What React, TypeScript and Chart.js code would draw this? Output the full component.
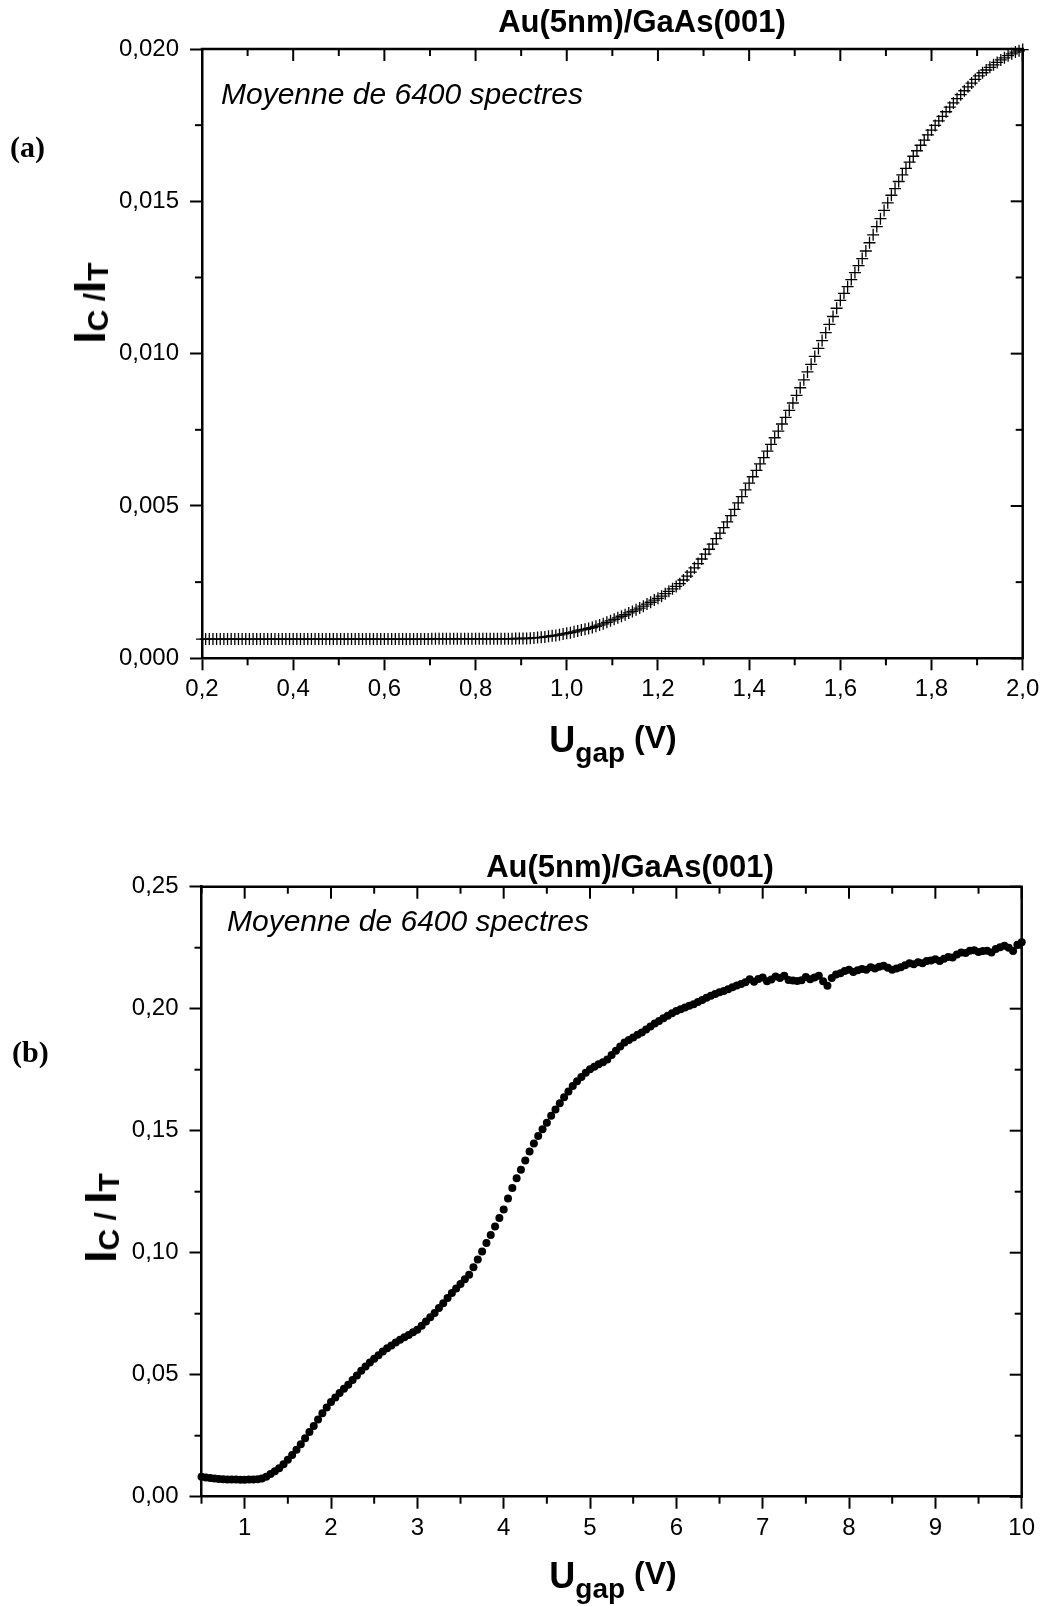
import React, { useEffect, useRef } from 'react';
import { Chart, registerables } from 'chart.js';

Chart.register(...registerables);

const FONT = "'Liberation Sans', Arial, Helvetica, sans-serif";
const SERIF = "'Liberation Serif', 'Times New Roman', serif";

const titleText = 'Au(5nm)/GaAs(001)';
const noteText = 'Moyenne de 6400 spectres';

// ---------- panel (a) ----------
const xA = [
  0.2, 0.208, 0.216, 0.224, 0.232, 0.24, 0.248, 0.256, 0.264, 0.272, 0.28, 0.288, 0.296, 0.304, 0.312, 0.32, 0.328, 0.336, 0.344, 0.352, 0.36, 0.368, 0.376, 0.384, 0.392,
  0.4, 0.408, 0.416, 0.424, 0.432, 0.44, 0.448, 0.456, 0.464, 0.472, 0.48, 0.488, 0.496, 0.504, 0.512, 0.52, 0.528, 0.536, 0.544, 0.552, 0.56, 0.568, 0.576, 0.584, 0.592,
  0.6, 0.608, 0.616, 0.624, 0.632, 0.64, 0.648, 0.656, 0.664, 0.672, 0.68, 0.688, 0.696, 0.704, 0.712, 0.72, 0.728, 0.736, 0.744, 0.752, 0.76, 0.768, 0.776, 0.784, 0.792,
  0.8, 0.808, 0.816, 0.824, 0.832, 0.84, 0.848, 0.856, 0.864, 0.872, 0.88, 0.888, 0.896, 0.904, 0.912, 0.92, 0.928, 0.936, 0.944, 0.952, 0.96, 0.968, 0.976, 0.984, 0.992,
  1.0, 1.008, 1.016, 1.024, 1.032, 1.04, 1.048, 1.056, 1.064, 1.072, 1.08, 1.088, 1.096, 1.104, 1.112, 1.12, 1.128, 1.136, 1.144, 1.152, 1.16, 1.168, 1.176, 1.184, 1.192,
  1.2, 1.208, 1.216, 1.224, 1.232, 1.24, 1.248, 1.256, 1.264, 1.272, 1.28, 1.288, 1.296, 1.304, 1.312, 1.32, 1.328, 1.336, 1.344, 1.352, 1.36, 1.368, 1.376, 1.384, 1.392,
  1.4, 1.408, 1.416, 1.424, 1.432, 1.44, 1.448, 1.456, 1.464, 1.472, 1.48, 1.488, 1.496, 1.504, 1.512, 1.52, 1.528, 1.536, 1.544, 1.552, 1.56, 1.568, 1.576, 1.584, 1.592,
  1.6, 1.608, 1.616, 1.624, 1.632, 1.64, 1.648, 1.656, 1.664, 1.672, 1.68, 1.688, 1.696, 1.704, 1.712, 1.72, 1.728, 1.736, 1.744, 1.752, 1.76, 1.768, 1.776, 1.784, 1.792,
  1.8, 1.808, 1.816, 1.824, 1.832, 1.84, 1.848, 1.856, 1.864, 1.872, 1.88, 1.888, 1.896, 1.904, 1.912, 1.92, 1.928, 1.936, 1.944, 1.952, 1.96, 1.968, 1.976, 1.984, 1.992,
  2.0,
];
const yA = [
  0.00063, 0.00063, 0.00063, 0.00063, 0.00063, 0.00063, 0.00063, 0.00063, 0.00063, 0.00063, 0.00063, 0.00063, 0.00063, 0.00063, 0.00063, 0.00063, 0.00063, 0.00063, 0.00063, 0.00063, 0.00063, 0.00063, 0.00063, 0.00063, 0.00063,
  0.00063, 0.00063, 0.00063, 0.00063, 0.00063, 0.00063, 0.00063, 0.00063, 0.00063, 0.00063, 0.00063, 0.00063, 0.00063, 0.00063, 0.00063, 0.00063, 0.00063, 0.00063, 0.00063, 0.00063, 0.00063, 0.00063, 0.00063, 0.00063, 0.00063,
  0.00063, 0.00063, 0.00063, 0.00063, 0.00063, 0.00063, 0.00063, 0.00063, 0.00063, 0.00063, 0.00063, 0.00063, 0.00063, 0.00064, 0.00064, 0.00064, 0.00064, 0.00064, 0.00064, 0.00064, 0.00064, 0.00064, 0.00064, 0.00064, 0.00064,
  0.00064, 0.00064, 0.00064, 0.00064, 0.00064, 0.00064, 0.00064, 0.00064, 0.00064, 0.00064, 0.00064, 0.00065, 0.00065, 0.00065, 0.00065, 0.00066, 0.00067, 0.00068, 0.00069, 0.0007, 0.00072, 0.00074, 0.00075, 0.00077, 0.0008,
  0.00082, 0.00084, 0.00087, 0.0009, 0.00093, 0.00095, 0.00098, 0.00101, 0.00105, 0.00109, 0.00113, 0.00118, 0.00123, 0.00128, 0.00133, 0.00138, 0.00143, 0.00149, 0.00154, 0.00159, 0.00165, 0.00171, 0.00178, 0.00184, 0.00191,
  0.00197, 0.00204, 0.00212, 0.0022, 0.00228, 0.00236, 0.00245, 0.00257, 0.0027, 0.00283, 0.00297, 0.00311, 0.00326, 0.00342, 0.00358, 0.00375, 0.00393, 0.00411, 0.00429, 0.00448, 0.00468, 0.00489, 0.0051, 0.00531, 0.00553,
  0.00575, 0.00596, 0.00617, 0.00638, 0.00659, 0.0068, 0.00702, 0.00724, 0.00746, 0.00769, 0.00791, 0.00814, 0.00838, 0.00863, 0.00888, 0.00914, 0.0094, 0.00965, 0.00991, 0.01017, 0.01043, 0.01069, 0.01096, 0.01122, 0.01149,
  0.01175, 0.01198, 0.0122, 0.01243, 0.01266, 0.01289, 0.01312, 0.01337, 0.01364, 0.0139, 0.01417, 0.01443, 0.0147, 0.01495, 0.0152, 0.01542, 0.01565, 0.01587, 0.01608, 0.01629, 0.01648, 0.01666, 0.01684, 0.01701, 0.01718,
  0.01734, 0.01749, 0.01764, 0.01779, 0.01794, 0.01809, 0.01823, 0.01837, 0.0185, 0.01863, 0.01876, 0.01888, 0.019, 0.01912, 0.01922, 0.01931, 0.0194, 0.01948, 0.01956, 0.01964, 0.01971, 0.01978, 0.01984, 0.0199, 0.01994,
  0.01998,
];
const xTicksA = [0.2, 0.4, 0.6, 0.8, 1.0, 1.2, 1.4, 1.6, 1.8, 2.0];
const xMinorA = [0.3, 0.5, 0.7, 0.9, 1.1, 1.3, 1.5, 1.7, 1.9];
const yTicksA = [0, 0.005, 0.01, 0.015, 0.02];
const yMinorA = [0.0025, 0.0075, 0.0125, 0.0175];

// ---------- panel (b) ----------
const xB = [
  0.5, 0.55, 0.6, 0.65, 0.7, 0.75, 0.8, 0.85, 0.9, 0.95,
  1, 1.05, 1.1, 1.15, 1.2, 1.25, 1.3, 1.35, 1.4, 1.45, 1.5, 1.55, 1.6, 1.65, 1.7, 1.75, 1.8, 1.85, 1.9, 1.95,
  2, 2.05, 2.1, 2.15, 2.2, 2.25, 2.3, 2.35, 2.4, 2.45, 2.5, 2.55, 2.6, 2.65, 2.7, 2.75, 2.8, 2.85, 2.9, 2.95,
  3, 3.05, 3.1, 3.15, 3.2, 3.25, 3.3, 3.35, 3.4, 3.45, 3.5, 3.55, 3.6, 3.65, 3.7, 3.75, 3.8, 3.85, 3.9, 3.95,
  4, 4.05, 4.1, 4.15, 4.2, 4.25, 4.3, 4.35, 4.4, 4.45, 4.5, 4.55, 4.6, 4.65, 4.7, 4.75, 4.8, 4.85, 4.9, 4.95,
  5, 5.05, 5.1, 5.15, 5.2, 5.25, 5.3, 5.35, 5.4, 5.45, 5.5, 5.55, 5.6, 5.65, 5.7, 5.75, 5.8, 5.85, 5.9, 5.95,
  6, 6.05, 6.1, 6.15, 6.2, 6.25, 6.3, 6.35, 6.4, 6.45, 6.5, 6.55, 6.6, 6.65, 6.7, 6.75, 6.8, 6.85, 6.9, 6.95,
  7, 7.05, 7.1, 7.15, 7.2, 7.25, 7.3, 7.35, 7.4, 7.45, 7.5, 7.55, 7.6, 7.65, 7.7, 7.75, 7.8, 7.85, 7.9, 7.95,
  8, 8.05, 8.1, 8.15, 8.2, 8.25, 8.3, 8.35, 8.4, 8.45, 8.5, 8.55, 8.6, 8.65, 8.7, 8.75, 8.8, 8.85, 8.9, 8.95,
  9, 9.05, 9.1, 9.15, 9.2, 9.25, 9.3, 9.35, 9.4, 9.45, 9.5, 9.55, 9.6, 9.65, 9.7, 9.75, 9.8, 9.85, 9.9, 9.95,
  10,
];
const yB = [
  0.0082, 0.0079, 0.0077, 0.0075, 0.0073, 0.0072, 0.0071, 0.007, 0.007, 0.0069,
  0.0069, 0.007, 0.007, 0.0072, 0.0075, 0.0082, 0.0093, 0.0104, 0.0117, 0.0133, 0.0151, 0.0171, 0.0192, 0.0215, 0.024, 0.0265, 0.029, 0.0316, 0.0342, 0.0366,
  0.0388, 0.0407, 0.0425, 0.0442, 0.0459, 0.0478, 0.0497, 0.0516, 0.0534, 0.055, 0.0565, 0.058, 0.0595, 0.0608, 0.062, 0.0632, 0.0643, 0.0653, 0.0663, 0.0674,
  0.0684, 0.0701, 0.0718, 0.0735, 0.0753, 0.0773, 0.0793, 0.0814, 0.0835, 0.0853, 0.0872, 0.0891, 0.091, 0.094, 0.0972, 0.1005, 0.104, 0.1073, 0.1107, 0.1142,
  0.1177, 0.1222, 0.1265, 0.1305, 0.134, 0.1378, 0.1415, 0.1448, 0.1478, 0.1506, 0.1533, 0.1561, 0.1587, 0.1612, 0.1637, 0.1661, 0.1683, 0.1703, 0.172, 0.1737,
  0.1752, 0.1762, 0.1772, 0.1781, 0.1792, 0.181, 0.1828, 0.1845, 0.1861, 0.1872, 0.1882, 0.1893, 0.1902, 0.1915, 0.1927, 0.1939, 0.195, 0.1961, 0.1971, 0.1981,
  0.1991, 0.1998, 0.2005, 0.2012, 0.2018, 0.2027, 0.2036, 0.2045, 0.2053, 0.206, 0.2067, 0.2073, 0.208, 0.2088, 0.2095, 0.2101, 0.2108, 0.2121, 0.211, 0.2122,
  0.2128, 0.2112, 0.212, 0.2132, 0.2126, 0.2135, 0.2118, 0.2116, 0.2114, 0.2117, 0.213, 0.2121, 0.2128, 0.2135, 0.2112, 0.2094, 0.2126, 0.214, 0.2145, 0.2155,
  0.216, 0.215, 0.2158, 0.2163, 0.216, 0.217, 0.2165, 0.2172, 0.2176, 0.2168, 0.216, 0.2165, 0.217, 0.2178, 0.2186, 0.2182, 0.219, 0.2186, 0.2195, 0.2198,
  0.2203, 0.2196, 0.2205, 0.2212, 0.221, 0.2222, 0.223, 0.2228, 0.2237, 0.224, 0.2232, 0.2236, 0.2237, 0.223, 0.2245, 0.2252, 0.2258, 0.225, 0.2236, 0.2262,
  0.2272,
];
const xTicksB = [1, 2, 3, 4, 5, 6, 7, 8, 9, 10];
const xMinorB = [0.5, 1.5, 2.5, 3.5, 4.5, 5.5, 6.5, 7.5, 8.5, 9.5];
const yTicksB = [0, 0.05, 0.1, 0.15, 0.2, 0.25];
const yMinorB = [0.025, 0.075, 0.125, 0.175, 0.225];

const W = 1047;

function makeFrame(xMajor: number[], xMinor: number[], yMajor: number[], yMinor: number[]) {
  return {
    id: 'frame',
    beforeDatasetsDraw(chart: any) {
      const { ctx, chartArea: a, scales } = chart;
      const xs = scales.x;
      const ys = scales.y;
      const line = (x1: number, y1: number, x2: number, y2: number) => {
        ctx.beginPath();
        ctx.moveTo(x1, y1);
        ctx.lineTo(x2, y2);
        ctx.stroke();
      };
      ctx.save();
      ctx.strokeStyle = '#000';
      ctx.lineWidth = 2.5;
      ctx.beginPath();
      ctx.moveTo(a.left - 1.25, a.top);
      ctx.lineTo(a.right, a.top);
      ctx.lineTo(a.right, a.bottom + 1.25);
      ctx.stroke();
      ctx.lineWidth = 2;
      for (const v of xMajor) {
        const p = xs.getPixelForValue(v);
        line(p, a.top, p, a.top + 12);
      }
      for (const v of xMinor) {
        const p = xs.getPixelForValue(v);
        line(p, a.top, p, a.top + 7);
        line(p, a.bottom, p, a.bottom + 7);
      }
      for (const v of yMajor) {
        const p = ys.getPixelForValue(v);
        line(a.right, p, a.right - 12, p);
      }
      for (const v of yMinor) {
        const p = ys.getPixelForValue(v);
        line(a.right, p, a.right - 7, p);
        line(a.left, p, a.left - 7, p);
      }
      ctx.restore();
    },
  };
}

function buildConfig(p: any) {
  const tickFont = { family: FONT, size: 24 };
  return {
    type: 'scatter',
    data: {
      datasets: [
        {
          data: p.xs.map((x: number, i: number) => ({ x, y: p.ys[i] })),
          showLine: false,
          clip: false,
          pointStyle: p.pointStyle,
          pointRadius: p.radius,
          pointHoverRadius: p.radius,
          pointBorderWidth: p.borderWidth,
          pointBorderColor: '#000',
          pointBackgroundColor: '#000',
        },
      ],
    },
    options: {
      responsive: false,
      maintainAspectRatio: false,
      animation: false,
      devicePixelRatio: 1,
      events: [],
      layout: { padding: { left: 0, right: p.padRight, top: p.padTop, bottom: 0 } },
      plugins: {
        legend: { display: false },
        tooltip: { enabled: false },
        title: { display: false },
      },
      scales: {
        x: {
          type: 'linear',
          position: 'bottom',
          min: p.xMin,
          max: p.xMax,
          afterBuildTicks: (s: any) => {
            s.ticks = p.xTicks.map((v: number) => ({ value: v }));
          },
          afterFit: (s: any) => {
            s.height = p.xHeight;
          },
          ticks: {
            callback: (v: any) => p.xFmt(Number(v)),
            font: tickFont,
            color: '#000',
            padding: 5,
            maxRotation: 0,
            minRotation: 0,
            autoSkip: false,
          },
          grid: {
            display: true,
            drawOnChartArea: false,
            drawTicks: true,
            tickLength: 12,
            tickWidth: 2,
            tickColor: '#000',
            color: '#000',
          },
          border: { display: true, color: '#000', width: 2.5 },
        },
        y: {
          type: 'linear',
          position: 'left',
          min: p.yMin,
          max: p.yMax,
          afterBuildTicks: (s: any) => {
            s.ticks = p.yTicks.map((v: number) => ({ value: v }));
          },
          afterFit: (s: any) => {
            s.width = p.yWidth;
          },
          ticks: {
            callback: (v: any) => p.yFmt(Number(v)),
            font: tickFont,
            color: '#000',
            padding: 11,
            autoSkip: false,
          },
          grid: {
            display: true,
            drawOnChartArea: false,
            drawTicks: true,
            tickLength: 12,
            tickWidth: 2,
            tickColor: '#000',
            color: '#000',
          },
          border: { display: true, color: '#000', width: 2.5 },
        },
      },
    },
    plugins: [makeFrame(p.xTicks, p.xMinor, p.yTicks, p.yMinor)],
  };
}

const comma = (s: string) => s.replace('.', ',');

const configA = () =>
  buildConfig({
    xs: xA,
    ys: yA,
    xMin: 0.2,
    xMax: 2.0,
    yMin: 0,
    yMax: 0.02,
    xTicks: xTicksA,
    xMinor: xMinorA,
    yTicks: yTicksA,
    yMinor: yMinorA,
    xFmt: (v: number) => comma(v.toFixed(1)),
    yFmt: (v: number) => comma(v.toFixed(3)),
    padTop: 49,
    padRight: W - 1022.7,
    yWidth: 202,
    xHeight: 790 - 658.3,
    pointStyle: 'cross',
    radius: 6,
    borderWidth: 1.3,
  });

const configB = () =>
  buildConfig({
    xs: xB,
    ys: yB,
    xMin: 0.5,
    xMax: 10,
    yMin: 0,
    yMax: 0.25,
    xTicks: xTicksB,
    xMinor: xMinorB,
    yTicks: yTicksB,
    yMinor: yMinorB,
    xFmt: (v: number) => String(Math.round(v)),
    yFmt: (v: number) => comma(v.toFixed(2)),
    padTop: 886.7 - 800,
    padRight: W - 1021.7,
    yWidth: 201.5,
    xHeight: 806 - (1496.7 - 800),
    pointStyle: 'circle',
    radius: 4,
    borderWidth: 0,
  });

const abs = (extra: any) => ({ position: 'absolute' as const, whiteSpace: 'nowrap' as const, lineHeight: 1, ...extra });

function XTitle({ top }: { top: number }) {
  return (
    <div style={abs({ left: 613, top, transform: 'translateX(-50%)', fontWeight: 'bold', fontSize: 36 })}>
      U<span style={{ fontSize: 28, position: 'relative', top: 10 }}>gap</span>
      <span style={{ fontSize: 32, position: 'relative', top: -4 }}>{' (V)'}</span>
    </div>
  );
}

function YTitle({ cx, cy, spaced }: { cx: number; cy: number; spaced: boolean }) {
  return (
    <div
      style={abs({
        left: cx,
        top: cy,
        transform: 'translate(-50%, -50%) rotate(-90deg)',
        fontWeight: 'bold',
        fontSize: 44,
      })}
    >
      I<span style={{ fontSize: 30, position: 'relative', top: 3 }}>C</span>
      <span style={{ fontSize: 30 }}>{spaced ? ' / ' : ' /'}</span>I
      <span style={{ fontSize: 30, position: 'relative', top: 3 }}>T</span>
    </div>
  );
}

export default function App() {
  const refA = useRef<HTMLCanvasElement>(null);
  const refB = useRef<HTMLCanvasElement>(null);

  useEffect(() => {
    const a = new Chart(refA.current as HTMLCanvasElement, configA() as any);
    const b = new Chart(refB.current as HTMLCanvasElement, configB() as any);
    return () => {
      a.destroy();
      b.destroy();
    };
  }, []);

  return (
    <div
      style={{
        position: 'absolute',
        left: 0,
        top: 0,
        width: W,
        height: 1606,
        background: '#fff',
        overflow: 'hidden',
        fontFamily: FONT,
        color: '#000',
      }}
    >
      <canvas ref={refA} width={W} height={790} style={{ position: 'absolute', left: 0, top: 0, width: W, height: 790 }} />
      <canvas ref={refB} width={W} height={806} style={{ position: 'absolute', left: 0, top: 800, width: W, height: 806 }} />

      {/* panel (a) texts */}
      <div style={abs({ left: 642, top: 5.8, transform: 'translateX(-50%)', fontWeight: 'bold', fontSize: 31 })}>{titleText}</div>
      <div style={abs({ left: 221, top: 78.6, fontStyle: 'italic', fontSize: 30 })}>{noteText}</div>
      <div style={abs({ left: 10, top: 132, fontFamily: SERIF, fontWeight: 'bold', fontSize: 30 })}>(a)</div>
      <YTitle cx={90} cy={303} spaced={false} />
      <XTitle top={721.5} />

      {/* panel (b) texts */}
      <div style={abs({ left: 630, top: 850.8, transform: 'translateX(-50%)', fontWeight: 'bold', fontSize: 31 })}>{titleText}</div>
      <div style={abs({ left: 227, top: 905.6, fontStyle: 'italic', fontSize: 30 })}>{noteText}</div>
      <div style={abs({ left: 12, top: 1037, fontFamily: SERIF, fontWeight: 'bold', fontSize: 30 })}>(b)</div>
      <YTitle cx={101} cy={1218} spaced={true} />
      <XTitle top={1557.5} />
    </div>
  );
}
